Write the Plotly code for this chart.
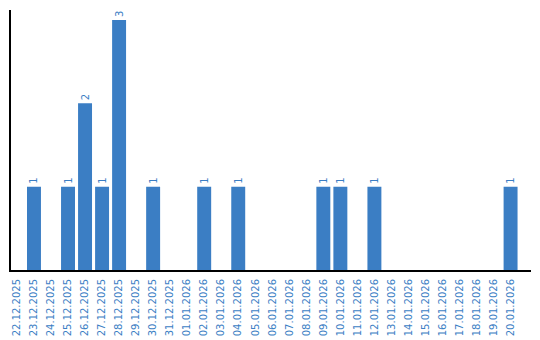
import plotly.graph_objects as go

dates = ["22.12.2025","23.12.2025","24.12.2025","25.12.2025","26.12.2025","27.12.2025","28.12.2025",
         "29.12.2025","30.12.2025","31.12.2025","01.01.2026","02.01.2026","03.01.2026","04.01.2026",
         "05.01.2026","06.01.2026","07.01.2026","08.01.2026","09.01.2026","10.01.2026","11.01.2026",
         "12.01.2026","13.01.2026","14.01.2026","15.01.2026","16.01.2026","17.01.2026","18.01.2026",
         "19.01.2026","20.01.2026"]
counts = [0,1,0,1,2,1,3,0,1,0,0,1,0,1,0,0,0,0,1,1,0,1,0,0,0,0,0,0,0,1]

color = "#3b7ec4"
labels = [str(v) if v > 0 else "" for v in counts]

fig = go.Figure(go.Bar(
    x=dates, y=counts, marker_color=color, marker_line_width=0,
    text=labels, textposition="outside", textangle=-90,
    textfont=dict(family="DejaVu Sans", size=10, color=color),
    cliponaxis=False,
))
fig.update_layout(
    width=540, height=340, margin=dict(l=11, r=9, t=10, b=70),
    plot_bgcolor="white", paper_bgcolor="white", bargap=0.18, showlegend=False,
)
fig.update_xaxes(type="category", range=[-0.35, 30.2], tickangle=-90,
                 tickfont=dict(family="DejaVu Sans", size=10, color=color),
                 ticklabelstandoff=3, automargin=False,
                 showline=True, linecolor="black", linewidth=2, showgrid=False, ticks="")
fig.update_yaxes(range=[0, 3.12], showticklabels=False, showgrid=False, zeroline=False,
                 automargin=False,
                 showline=True, linecolor="black", linewidth=2, ticks="")
fig.write_html("out.html")
